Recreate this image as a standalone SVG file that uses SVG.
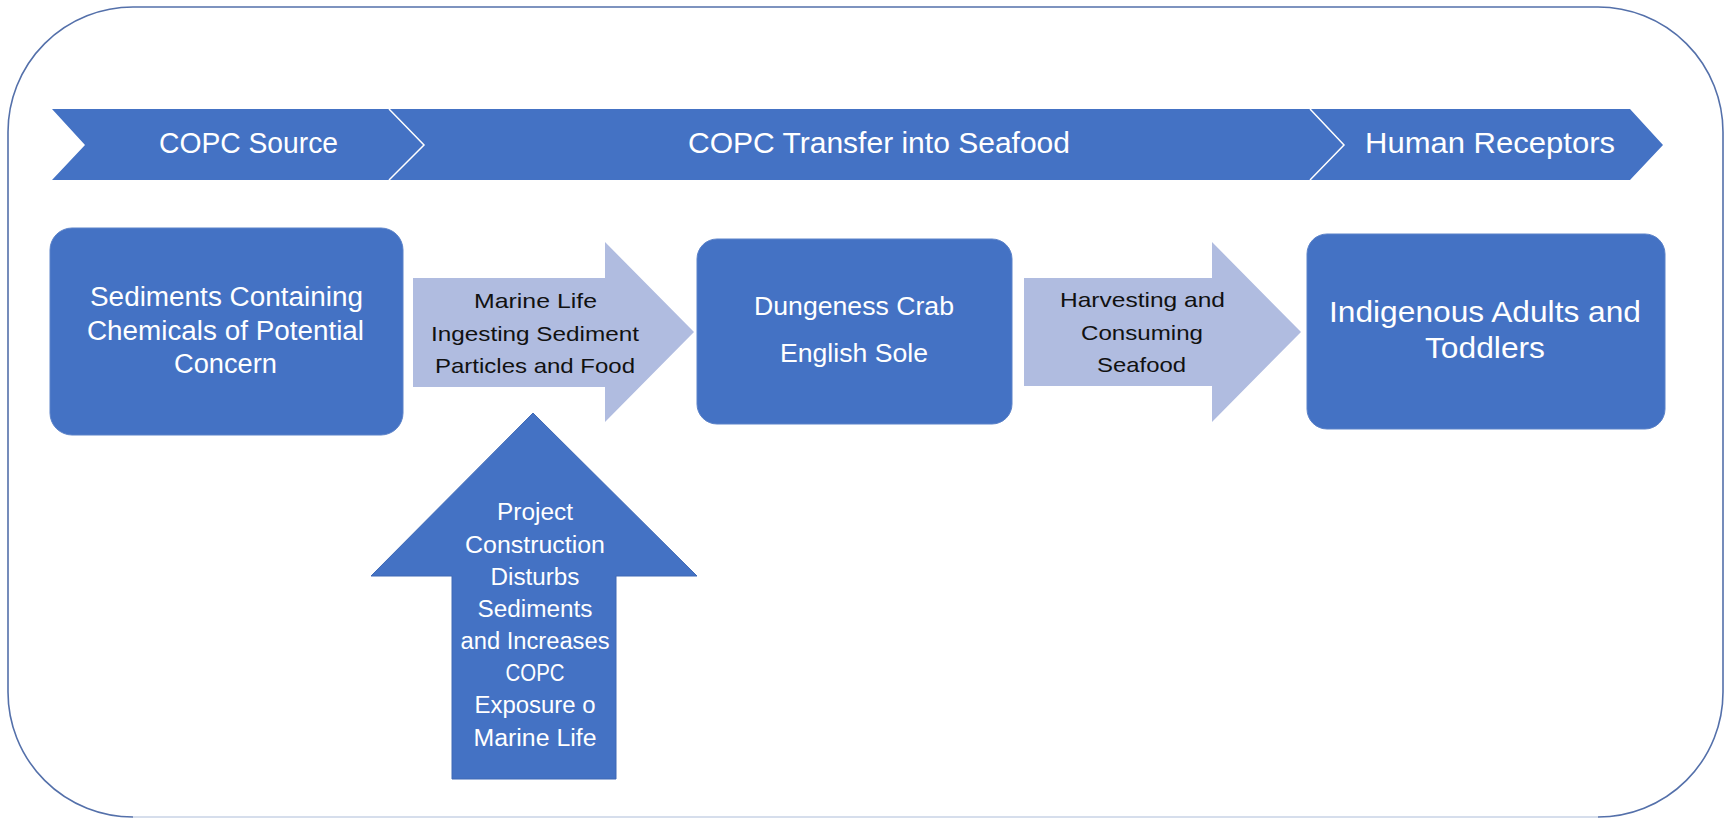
<svg xmlns="http://www.w3.org/2000/svg" width="1725" height="819" viewBox="0 0 1725 819">
  <style>
    .frame { fill: none; stroke: #5470AA; stroke-width: 1.6; }
    .frame-base { fill: none; stroke: #C9D3E6; stroke-width: 1.6; }
    .banner { fill: #4472C4; }
    .sep { fill: none; stroke: #FFFFFF; stroke-width: 1.5; }
    .box { fill: #4472C4; stroke: #5B82C9; stroke-width: 1; }
    .flow { fill: #B0BCE0; }
    .push { fill: #4472C4; stroke: #3F69B5; stroke-width: 1; }
    text { font-family: "Liberation Sans", Arial, sans-serif; text-anchor: middle; }
    .wt { fill: #FFFFFF; }
    .dk { fill: #111111; }
    .os { font-family: "Open Sans", "Liberation Sans", sans-serif; }
  </style>

  <!-- outer rounded frame -->
  <g id="frame">
    <path class="frame" d="M 8,692 L 8,132 A 125 125 0 0 1 133,7 L 1598,7 A 125 125 0 0 1 1723,132 L 1723,692 A 125 125 0 0 1 1598,817 M 8,692 A 125 125 0 0 0 133,817"/>
    <path class="frame-base" d="M 133,817 L 1598,817"/>
  </g>

  <!-- stage banner -->
  <g id="banner">
    <polygon class="banner" points="52,109 1630,109 1663,145 1630,180 52,180 85,145"/>
    <polyline class="sep" points="389,109 424,145 389,180"/>
    <polyline class="sep" points="1310,109 1344,145 1310,180"/>
    <text class="wt" x="248.5" y="153" font-size="29" textLength="179" lengthAdjust="spacingAndGlyphs">COPC Source</text>
    <text class="wt" x="879" y="153" font-size="29" textLength="382" lengthAdjust="spacingAndGlyphs">COPC Transfer into Seafood</text>
    <text class="wt" x="1490" y="153" font-size="29" textLength="250" lengthAdjust="spacingAndGlyphs">Human Receptors</text>
  </g>

  <!-- connectors -->
  <g id="connectors">
    <g id="ingest">
      <polygon class="flow" points="413,278 605,278 605,242 694,332 605,422 605,387 413,387"/>
      <text class="dk" x="535.5" y="308" font-size="21" textLength="123" lengthAdjust="spacingAndGlyphs">Marine Life</text>
      <text class="dk" x="535" y="341" font-size="21" textLength="208" lengthAdjust="spacingAndGlyphs">Ingesting Sediment</text>
      <text class="dk" x="535" y="373" font-size="21" textLength="200" lengthAdjust="spacingAndGlyphs">Particles and Food</text>
    </g>
    <g id="harvest">
      <polygon class="flow" points="1024,278 1212,278 1212,242 1301,332 1212,422 1212,386 1024,386"/>
      <text class="dk" x="1142.5" y="307" font-size="21" textLength="165" lengthAdjust="spacingAndGlyphs">Harvesting and</text>
      <text class="dk" x="1142" y="340" font-size="21" textLength="122" lengthAdjust="spacingAndGlyphs">Consuming</text>
      <text class="dk" x="1141.5" y="372" font-size="21" textLength="89" lengthAdjust="spacingAndGlyphs">Seafood</text>
    </g>
    <g id="construction">
      <polygon class="push" points="533,413 697,576 616,576 616,779 452,779 452,576 371,576"/>
      <g class="os wt" font-size="23">
        <text x="535" y="520" textLength="76" lengthAdjust="spacingAndGlyphs">Project</text>
        <text x="535" y="552.5" textLength="140" lengthAdjust="spacingAndGlyphs">Construction</text>
        <text x="535" y="585" textLength="89" lengthAdjust="spacingAndGlyphs">Disturbs</text>
        <text x="535" y="617" textLength="115" lengthAdjust="spacingAndGlyphs">Sediments</text>
        <text x="535" y="649" textLength="149" lengthAdjust="spacingAndGlyphs">and Increases</text>
        <text x="535" y="681" textLength="59" lengthAdjust="spacingAndGlyphs">COPC</text>
        <text x="535" y="713" textLength="121" lengthAdjust="spacingAndGlyphs">Exposure o</text>
        <text x="535" y="746" textLength="123" lengthAdjust="spacingAndGlyphs">Marine Life</text>
      </g>
    </g>
  </g>

  <!-- nodes -->
  <g id="sediments">
    <rect class="box" x="50" y="228" width="353" height="207" rx="22" ry="22"/>
    <text class="wt" x="226.5" y="306" font-size="27" textLength="273" lengthAdjust="spacingAndGlyphs">Sediments Containing</text>
    <text class="wt" x="225.5" y="340" font-size="27" textLength="277" lengthAdjust="spacingAndGlyphs">Chemicals of Potential</text>
    <text class="wt" x="225.5" y="373" font-size="27" textLength="103" lengthAdjust="spacingAndGlyphs">Concern</text>
  </g>

  <g id="seafood">
    <rect class="box" x="697" y="239" width="315" height="185" rx="20" ry="20"/>
    <text class="wt" x="854" y="315" font-size="25" textLength="200" lengthAdjust="spacingAndGlyphs">Dungeness Crab</text>
    <text class="wt" x="854" y="362" font-size="25" textLength="148" lengthAdjust="spacingAndGlyphs">English Sole</text>
  </g>

  <g id="receptors">
    <rect class="box" x="1307" y="234" width="358" height="195" rx="20" ry="20"/>
    <text class="wt" x="1485" y="322" font-size="30" textLength="312" lengthAdjust="spacingAndGlyphs">Indigenous Adults and</text>
    <text class="wt" x="1485" y="358" font-size="30" textLength="120" lengthAdjust="spacingAndGlyphs">Toddlers</text>
  </g>
</svg>
